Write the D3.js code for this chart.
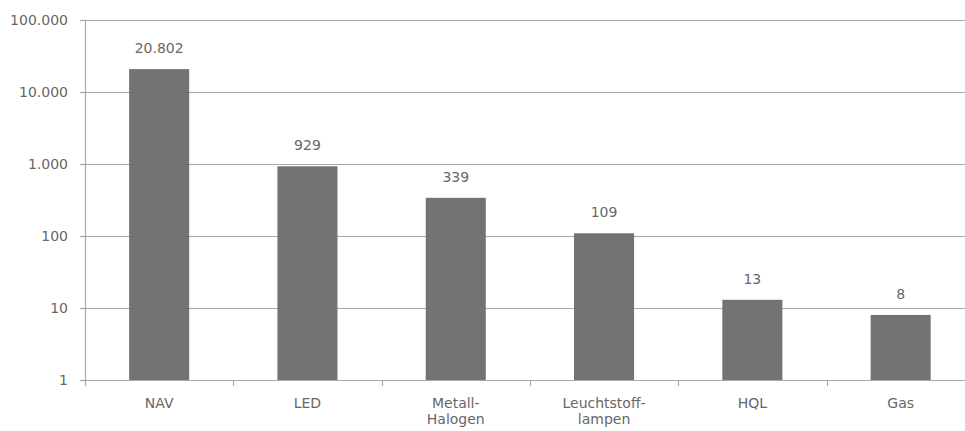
<!DOCTYPE html>
<html>
<head>
<meta charset="utf-8">
<script src="https://cdn.jsdelivr.net/npm/d3@7"></script>
<style>
  html, body { margin: 0; padding: 0; background: #fff; }
  svg text { font-family: "DejaVu Sans", sans-serif; fill: #676767; }
</style>
</head>
<body>
<svg id="chart" width="965" height="431"></svg>
<script>
// Lamp types (two-line labels split on "\n")
const categories = ["NAV", "LED", "Metall-\nHalogen", "Leuchtstoff-\nlampen", "HQL", "Gas"];
const counts = [20802, 929, 339, 109, 13, 8];
const yTicks = [1, 10, 100, 1000, 10000, 100000];
const yTickLabels = ["1", "10", "100", "1.000", "10.000", "100.000"];
const countLabels = ["20.802", "929", "339", "109", "13", "8"];

(function () {
const svg = d3.select("#chart");
const plotLeft = 85, plotBottom = 380, plotTop = 20;
const step = 148.3;
const plotRight = plotLeft + step * categories.length;

const x = d3.scaleBand()
  .domain(categories)
  .range([plotLeft, plotRight])
  .paddingInner(0.595)
  .paddingOuter(0.2975);

const y = d3.scaleLog()
  .domain([1, 100000])
  .range([plotBottom, plotTop]);

const gridColor = "#a8a8a8";

// horizontal gridlines
svg.append("g").selectAll("line")
  .data(yTicks.slice(1))
  .join("line")
  .attr("x1", plotLeft).attr("x2", 965)
  .attr("y1", d => Math.round(y(d)) + 0.5)
  .attr("y2", d => Math.round(y(d)) + 0.5)
  .attr("stroke", gridColor)
  .attr("stroke-width", 1.2);

// bars
svg.append("g").selectAll("rect")
  .data(counts)
  .join("rect")
  .attr("x", (d, i) => x(categories[i]))
  .attr("width", x.bandwidth())
  .attr("y", d => y(d))
  .attr("height", d => y(1) - y(d))
  .attr("fill", "#737373");

// value labels above bars
svg.append("g").selectAll("text")
  .data(counts)
  .join("text")
  .attr("x", (d, i) => x(categories[i]) + x.bandwidth() / 2)
  .attr("y", d => y(d) - 16)
  .attr("text-anchor", "middle")
  .attr("font-size", 14)
  .text((d, i) => countLabels[i]);

// y axis
const yAxis = svg.append("g");
yAxis.append("line")
  .attr("x1", plotLeft + 0.5).attr("x2", plotLeft + 0.5)
  .attr("y1", plotTop).attr("y2", plotBottom)
  .attr("stroke", gridColor).attr("stroke-width", 1.2);
yAxis.selectAll(".tick")
  .data(yTicks)
  .join("line")
  .attr("x1", plotLeft - 5).attr("x2", plotLeft)
  .attr("y1", d => Math.round(y(d)) + 0.5)
  .attr("y2", d => Math.round(y(d)) + 0.5)
  .attr("stroke", gridColor).attr("stroke-width", 1.2);
yAxis.selectAll("text")
  .data(yTicks)
  .join("text")
  .attr("x", 68)
  .attr("y", d => y(d))
  .attr("dy", "0.35em")
  .attr("text-anchor", "end")
  .attr("font-size", 14)
  .text((d, i) => yTickLabels[i]);

// x axis
const xAxis = svg.append("g");
xAxis.append("line")
  .attr("x1", plotLeft).attr("x2", 965)
  .attr("y1", plotBottom + 0.5).attr("y2", plotBottom + 0.5)
  .attr("stroke", gridColor).attr("stroke-width", 1.2);
const boundaries = categories.map(c => x(c) + x.bandwidth() / 2 - x.step() / 2);
xAxis.selectAll(".tick")
  .data(boundaries)
  .join("line")
  .attr("x1", d => Math.round(d) + 0.5).attr("x2", d => Math.round(d) + 0.5)
  .attr("y1", plotBottom).attr("y2", plotBottom + 6)
  .attr("stroke", gridColor).attr("stroke-width", 1.2);
const catLabels = xAxis.selectAll("text")
  .data(categories)
  .join("text")
  .attr("x", c => x(c) + x.bandwidth() / 2)
  .attr("y", 408)
  .attr("text-anchor", "middle")
  .attr("font-size", 14);
catLabels.selectAll("tspan")
  .data(c => c.split("\n").map(t => ({ t, c })))
  .join("tspan")
  .attr("x", d => x(d.c) + x.bandwidth() / 2)
  .attr("dy", (d, i) => i === 0 ? 0 : 16)
  .text(d => d.t);
})();
</script>
</body>
</html>
